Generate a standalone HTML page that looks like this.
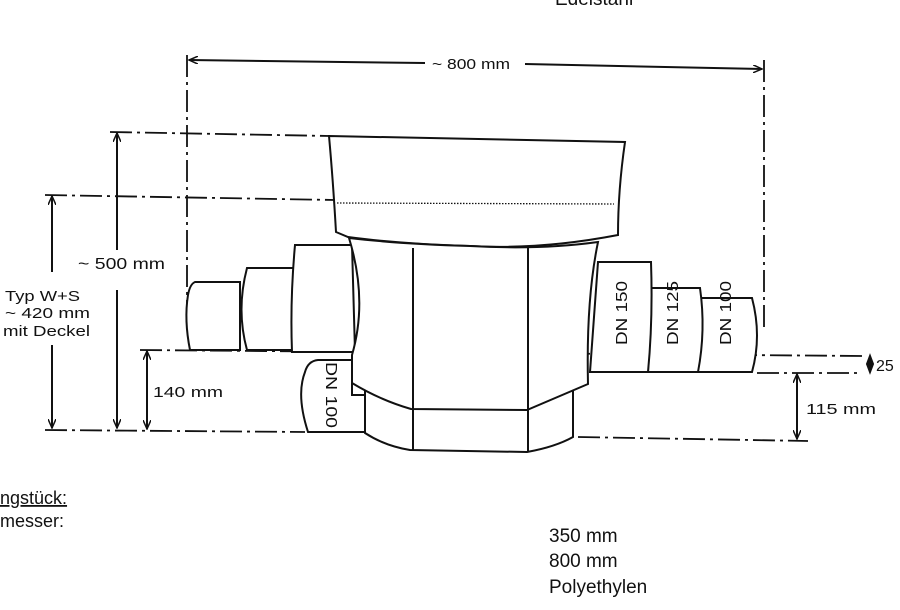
<!DOCTYPE html>
<html><head><meta charset="utf-8"><style>
html,body{margin:0;padding:0;background:#fff;width:900px;height:610px;overflow:hidden}
svg{display:block}
.t{font-family:"Liberation Sans",sans-serif;fill:#111}
</style></head><body>
<svg width="900" height="610" viewBox="0 0 900 610" xmlns="http://www.w3.org/2000/svg">
<defs>
<marker id="a" markerWidth="10" markerHeight="8" refX="9" refY="4" orient="auto-start-reverse" markerUnits="userSpaceOnUse"><path d="M0,0 L9,4 L0,8" fill="none" stroke="#111" stroke-width="1.5"/></marker>
</defs>
<g stroke="#111" fill="none" stroke-width="2">
<g stroke-dasharray="22,5,3,5" stroke-width="1.8">
<line x1="187" y1="55" x2="187" y2="330"/>
<line x1="764" y1="60" x2="764" y2="330"/>
<line x1="110" y1="132" x2="330" y2="136"/>
<line x1="45" y1="195" x2="335" y2="200"/>
<line x1="140" y1="350" x2="862" y2="356"/>
<line x1="757" y1="373" x2="862" y2="373"/>
<line x1="45" y1="430" x2="305" y2="432"/>
<line x1="578" y1="437" x2="808" y2="441"/>
</g>
<line x1="189" y1="60" x2="425" y2="63" marker-start="url(#a)"/>
<line x1="525" y1="64" x2="762" y2="69" marker-end="url(#a)"/>
<line x1="117" y1="133" x2="117" y2="250" marker-start="url(#a)"/>
<line x1="117" y1="290" x2="117" y2="428" marker-end="url(#a)"/>
<line x1="52" y1="196" x2="52" y2="272" marker-start="url(#a)"/>
<line x1="52" y1="345" x2="52" y2="428" marker-end="url(#a)"/>
<line x1="147" y1="351" x2="147" y2="429" marker-start="url(#a)" marker-end="url(#a)"/>
<line x1="797" y1="374" x2="797" y2="439" marker-start="url(#a)" marker-end="url(#a)"/>
<line x1="870" y1="357" x2="870" y2="372" stroke-width="2"/>
<path d="M867,364 L870,356 L873,364 L870,372Z" fill="#111"/>
<!-- lid -->
<path d="M329,136 L625,142 Q618,190 618,235 Q540,250 470,246 Q400,244 348,237 L336,232 Q333,180 329,136Z" fill="#fff"/>
<line x1="337" y1="203" x2="614" y2="204" stroke-dasharray="1.5,1.5" stroke-width="1.3"/>
<!-- left pipes -->
<path d="M195,282 L240,282 L240,350 L190,350 Q184,320 188,295 Q190,284 195,282Z" fill="#fff"/>
<path d="M247,268 L295,268 L295,350 L247,350 Q236,310 247,268Z" fill="#fff"/>
<path d="M295,245 L352,245 L355,352 L292,352 Q290,300 295,245Z" fill="#fff"/>
<!-- right pipes -->
<path d="M700,298 L752,298 Q762,336 752,372 L698,372Z" fill="#fff"/>
<path d="M651,288 L700,288 Q706,330 698,372 L648,372Z" fill="#fff"/>
<path d="M598,262 L651,262 Q653,320 648,372 L590,372Z" fill="#fff"/>
<!-- lower DN100 pipe -->
<path d="M318,360 L352,360 L352,395 L365,395 L365,432 L308,432 Q296,395 305,372 Q308,361 318,360Z" fill="#fff"/>
<!-- lower block -->
<path d="M365,388 L365,433 Q385,446 410,450 L527,452 Q555,447 573,437 L573,390Z" fill="#fff"/>
<!-- body -->
<path d="M349,238 Q368,300 352,355 L352,383 Q380,400 411,409 L527,410 Q560,396 588,384 Q586,300 598,242 Q540,250 470,246 Q400,244 349,238Z" fill="#fff"/>
<line x1="413" y1="248" x2="413" y2="450"/>
<line x1="528" y1="248" x2="528" y2="452"/>
</g>
<g class="t">
<text x="555" y="5" font-size="19">Edelstahl</text>
<text x="432" y="69" font-size="15" textLength="78" lengthAdjust="spacingAndGlyphs">~ 800 mm</text>
<text x="78" y="269" font-size="16" textLength="87" lengthAdjust="spacingAndGlyphs">~ 500 mm</text>
<text x="5" y="301" font-size="15" textLength="75" lengthAdjust="spacingAndGlyphs">Typ W+S</text>
<text x="5" y="318" font-size="15" textLength="85" lengthAdjust="spacingAndGlyphs">~ 420 mm</text>
<text x="3" y="336" font-size="15" textLength="87" lengthAdjust="spacingAndGlyphs">mit Deckel</text>
<text x="153" y="397" font-size="15" textLength="70" lengthAdjust="spacingAndGlyphs">140 mm</text>
<text x="806" y="414" font-size="15" textLength="70" lengthAdjust="spacingAndGlyphs">115 mm</text>
<text x="876" y="371" font-size="16">25</text>
<text transform="translate(627,345) rotate(-90)" font-size="16" textLength="64" lengthAdjust="spacingAndGlyphs">DN 150</text>
<text transform="translate(678,345) rotate(-90)" font-size="16" textLength="64" lengthAdjust="spacingAndGlyphs">DN 125</text>
<text transform="translate(731,345) rotate(-90)" font-size="16" textLength="64" lengthAdjust="spacingAndGlyphs">DN 100</text>
<text transform="translate(326,362) rotate(90)" font-size="16" textLength="66" lengthAdjust="spacingAndGlyphs">DN 100</text>
<text x="0" y="504" font-size="18" text-decoration="underline">ngstück:</text>
<text x="0" y="527" font-size="18">messer:</text>
<text x="549" y="542" font-size="19">350 mm</text>
<text x="549" y="567" font-size="19">800 mm</text>
<text x="549" y="593" font-size="19">Polyethylen</text>
</g>
</svg>
</body></html>
